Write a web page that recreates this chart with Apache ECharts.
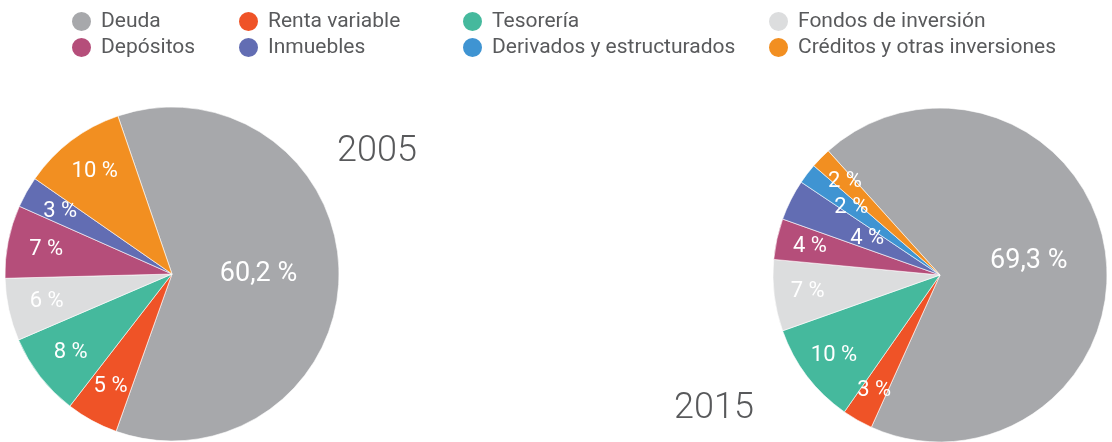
<!DOCTYPE html>
<html>
<head>
<meta charset="utf-8">
<script src="https://cdn.jsdelivr.net/npm/echarts@6/dist/echarts.min.js"></script>
<style>
  html, body { margin: 0; padding: 0; background: #fff; }
  #chart { width: 1112px; height: 442px; }
</style>
</head>
<body>
<div id="chart"></div>
<script>
// categorias (orden de la leyenda y de los sectores, sentido horario)
var categories = ['Deuda', 'Renta variable', 'Tesorería', 'Fondos de inversión',
  'Depósitos', 'Inmuebles', 'Derivados y estructurados', 'Créditos y otras inversiones'];
var colors = ['#a7a8ab', '#ef5327', '#45b99d', '#dcddde',
  '#b54e7a', '#626db3', '#3f94d2', '#f28f21'];
// % de la cartera
var values2005 = [60.2, 5, 8, 6, 7, 3, null, 10];
var values2015 = [69.3, 3, 10, 7, 4, 4, 2, 2];
var years = ['2005', '2015'];

var FONT = 'Roboto, "DejaVu Sans", sans-serif';

function fmt(v) {
  return String(v).replace('.', ',') + ' %';
}

// serie principal + anillos transparentes que solo llevan las etiquetas
function pieSeries(values, center, R, startAngle, labelFrac) {
  var data = [];
  values.forEach(function (v, i) {
    if (v == null) return;
    data.push({ name: categories[i], value: v, idx: i, itemStyle: { color: colors[i] } });
  });
  var out = [{
    type: 'pie',
    center: center,
    radius: [0, R],
    startAngle: startAngle,
    clockwise: true,
    avoidLabelOverlap: false,
    silent: true,
    label: { show: false },
    labelLine: { show: false },
    itemStyle: { borderColor: '#ffffff', borderWidth: 0.6 },
    data: data
  }];
  var groups = {};
  data.forEach(function (d) {
    var f = labelFrac(d.idx);
    (groups[f] = groups[f] || []).push(d.idx);
  });
  Object.keys(groups).forEach(function (key) {
    var f = +key;
    var radius = f >= 0.5 ? [(2 * f - 1) * R, R] : [0, 2 * f * R];
    out.push({
      type: 'pie',
      center: center,
      radius: radius,
      startAngle: startAngle,
      clockwise: true,
      avoidLabelOverlap: false,
      silent: true,
      labelLine: { show: false },
      itemStyle: { color: 'transparent', borderWidth: 0 },
      emphasis: { disabled: true },
      data: data.map(function (d) {
        var on = groups[key].indexOf(d.idx) >= 0;
        return {
          name: d.name,
          value: d.value,
          itemStyle: { color: 'transparent' },
          label: {
            show: on,
            position: 'inside',
            formatter: fmt(d.value),
            color: '#ffffff',
            fontFamily: FONT,
            fontSize: d.idx === 0 ? 27 : 22
          }
        };
      })
    });
  });
  return out;
}

var legendCols = [[0, 4], [1, 5], [2, 6], [3, 7]];
var legendLeft = [65, 232, 456, 762];

var chart = echarts.init(document.getElementById('chart'), null, { renderer: 'canvas' });
chart.setOption({
  backgroundColor: '#ffffff',
  animation: false,
  title: [
    { text: years[0], left: 332, top: 129, textStyle: { fontFamily: FONT, fontWeight: 300, fontSize: 36, color: '#58595b' } },
    { text: years[1], left: 669, top: 386, textStyle: { fontFamily: FONT, fontWeight: 300, fontSize: 36, color: '#58595b' } }
  ],
  legend: legendCols.map(function (col, k) {
    return {
      orient: 'vertical',
      left: legendLeft[k],
      top: 5,
      icon: 'circle',
      itemWidth: 21,
      itemHeight: 21,
      itemGap: 3,
      selectedMode: false,
      textStyle: { fontFamily: FONT, fontSize: 21, color: '#595a5c', padding: [0, 0, 0, 4] },
      data: col.map(function (i) {
        return { name: categories[i], itemStyle: { color: colors[i] } };
      })
    };
  }),
  series: [].concat(
    pieSeries(values2005, [172, 274], 167, 108.9, function (i) {
      return i === 0 ? 0.5 : 0.75;
    }),
    pieSeries(values2015, [940, 275], 167, 132, function (i) {
      if (i === 0) return 0.52;
      if (i === 5) return 0.47;
      if (i === 6) return 0.65;
      return 0.78;
    })
  )
});
</script>
</body>
</html>
